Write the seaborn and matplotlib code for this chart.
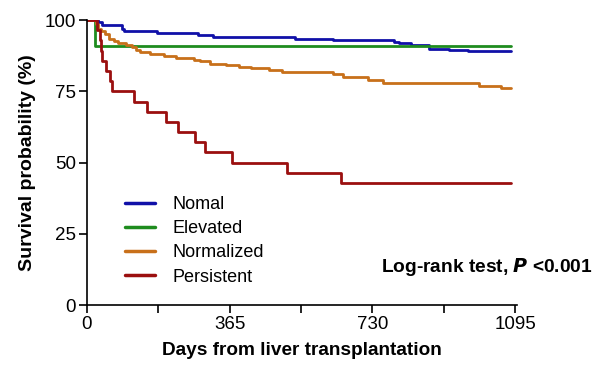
import numpy as np
import pandas as pd
import matplotlib
matplotlib.use("Agg")
import matplotlib.pyplot as plt
import seaborn as sns

groups = ["Nomal", "Elevated", "Normalized", "Persistent"]

nomal_days = [0, 27, 38, 89, 95, 179, 185, 285, 323, 533, 628, 785, 797, 828, 874, 926, 974, 1085]
nomal_surv = [100, 99.2, 98.2, 96.7, 96.2, 95.6, 95.3, 94.9, 93.9, 93.3, 93.0, 92.2, 91.8, 91.3, 90.0, 89.4, 89.1, 89.1]

elevated_days = [0, 20, 1085]
elevated_surv = [100, 90.9, 90.9]

normalized_days = [0, 22, 28, 35, 45, 55, 70, 80, 100, 115, 125, 135, 160, 197, 228, 273, 288, 315,
                   356, 388, 420, 465, 499, 628, 656, 718, 756, 1003, 1059, 1085]
normalized_surv = [100, 98.5, 97.0, 96.0, 95.0, 93.5, 92.5, 92.0, 91.3, 90.5, 89.5, 88.8, 88.2, 87.5, 86.7,
                   86.0, 85.5, 84.7, 84.2, 83.7, 83.2, 82.5, 81.8, 81.0, 80.0, 79.1, 77.9, 77.0, 76.1, 76.1]

persistent_days = [0, 25, 34, 36, 38, 48, 58, 64, 121, 154, 202, 232, 277, 302, 372, 512, 649, 1085]
persistent_surv = [100, 96.4, 92.9, 89.3, 85.7, 82.1, 78.6, 75.0, 71.4, 67.9, 64.3, 60.7, 57.1, 53.6,
                   50.0, 46.4, 42.9, 42.9]

x_ticks = [0, 365, 730, 1095]
y_ticks = [0, 25, 50, 75, 100]

colors = ["#1010a8", "#1e8c1e", "#c8701a", "#9b0f0f"]

frames = []
for g, d, s in zip(groups,
                   [nomal_days, elevated_days, normalized_days, persistent_days],
                   [nomal_surv, elevated_surv, normalized_surv, persistent_surv]):
    frames.append(pd.DataFrame({"Days": d, "Survival": s, "Group": g}))
df = pd.concat(frames, ignore_index=True)

sns.set_style("ticks")
plt.rcParams["font.family"] = ["Liberation Sans", "DejaVu Sans"]
plt.rcParams["text.color"] = "black"
plt.rcParams["axes.labelcolor"] = "black"
plt.rcParams["xtick.color"] = "black"
plt.rcParams["ytick.color"] = "black"

fig = plt.figure(figsize=(6, 3.79), dpi=100)
ax = fig.add_axes([0.145, 0.195, 0.7167, 0.752])

sns.lineplot(data=df, x="Days", y="Survival", hue="Group", hue_order=groups,
             palette=colors, drawstyle="steps-post", linewidth=2.0, ax=ax,
             estimator=None, sort=False)

ax.set_xlim(0, 1100)
ax.set_ylim(0, 100)
ax.set_xticks(x_ticks)
ax.set_xticks([182.5, 547.5, 912.5], minor=True)
ax.set_yticks(y_ticks)
ax.tick_params(axis="both", which="major", labelsize=13.5, length=6, width=1.2, direction="out", pad=2,
               colors="black")
ax.tick_params(axis="x", which="minor", length=6, width=1.2, direction="out", colors="black")
for sp in ["top", "right"]:
    ax.spines[sp].set_visible(False)
for sp in ["left", "bottom"]:
    ax.spines[sp].set_linewidth(1.2)
    ax.spines[sp].set_color("black")

ax.set_xlabel("Days from liver transplantation", fontsize=13.7, fontweight="bold", labelpad=6,
              color="black")
ax.set_ylabel("Survival probability (%)", fontsize=14, fontweight="bold", labelpad=6, color="black")

handles, labels = ax.get_legend_handles_labels()
leg = ax.legend(handles, labels, loc="upper left", bbox_to_anchor=(0.05, 0.44),
                frameon=False, fontsize=13, handlelength=1.7, handletextpad=0.95,
                labelspacing=0.4)
for line in leg.get_lines():
    line.set_linewidth(2.5)
for t in leg.get_texts():
    t.set_color("black")

fig.text(0.987, 0.295, "Log-rank test, $\\bfit{P}$ <0.001", ha="right", va="center",
         fontsize=13.8, fontweight="bold", color="black")

fig.savefig("out.png", dpi=100)
